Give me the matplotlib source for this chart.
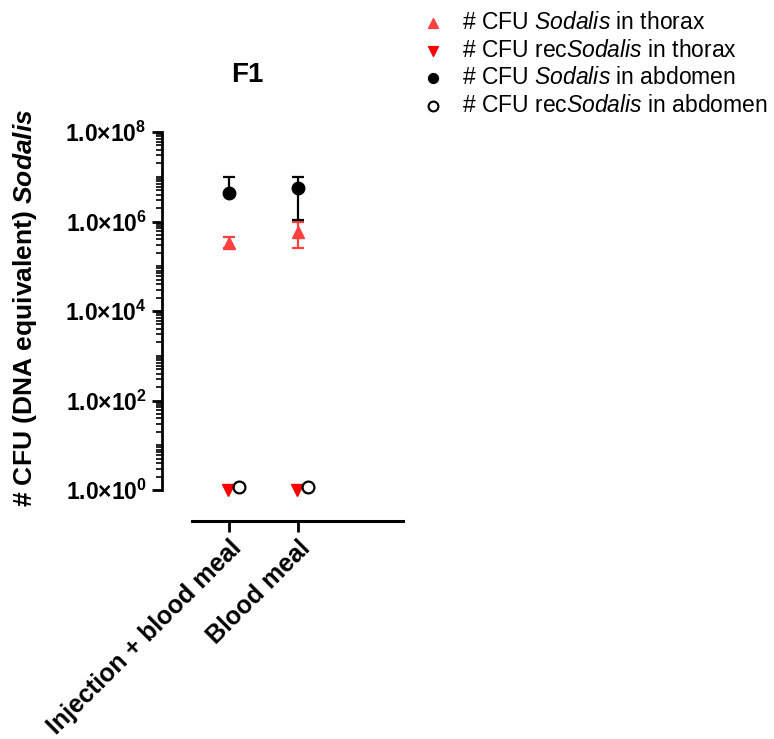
import matplotlib
matplotlib.use("Agg")
import matplotlib.pyplot as plt
import numpy as np
from matplotlib.ticker import FixedLocator, FuncFormatter, NullFormatter

plt.rcParams['font.family'] = ['Liberation Sans', 'DejaVu Sans']
plt.rcParams['mathtext.fontset'] = 'custom'
plt.rcParams['mathtext.rm'] = 'Liberation Sans'
plt.rcParams['mathtext.it'] = 'Liberation Sans:italic'
plt.rcParams['mathtext.bf'] = 'Liberation Sans:bold'
plt.rcParams['mathtext.bfit'] = 'Liberation Sans:bold:italic'

categories = ["Injection + blood meal", "Blood meal"]

# # CFU Sodalis in thorax (mean, lower, upper)
thorax = [3.3e5, 5.9e5]
thorax_lo = [2.6e5, 2.6e5]
thorax_hi = [4.4e5, 9.8e5]
# recSodalis in thorax
rec_thorax = [1.0, 1.0]
# Sodalis in abdomen
abdomen = [4.3e6, 5.6e6]
abdomen_lo = [4.3e6, 1.07e6]
abdomen_hi = [1.0e7, 1.0e7]
# recSodalis in abdomen
rec_abdomen = [1.15, 1.15]

fig = plt.figure(figsize=(7.74, 7.39), dpi=100)
ax = fig.add_axes([192/774, 1-521/739, (403-192)/774, (521-132)/739])
x = np.arange(len(categories))

ax.set_yscale('log')
ax.set_ylim(10**(-31/44.75), 1e8)
ax.set_xlim(-37/69, 174/69)

red_up = '#ff4040'
red_dn = '#ff0000'

ax.errorbar(x, thorax, yerr=[np.array(thorax)-np.array(thorax_lo), np.array(thorax_hi)-np.array(thorax)],
            fmt='^', color=red_up, ms=9, capsize=4.5, elinewidth=1.6, capthick=1.6, zorder=3)
ab = np.array(abdomen)
ax.errorbar(x, abdomen, yerr=[ab-np.array(abdomen_lo), np.array(abdomen_hi)-ab],
            fmt='o', color='black', ms=9, capsize=4.5, elinewidth=1.6, capthick=1.6, zorder=3)
ax.plot(x - 0.02, rec_thorax, 'v', color=red_dn, ms=9, linestyle='none', zorder=3)
ax.plot(x + 0.15, rec_abdomen, 'o', mfc='white', mec='black', mew=1.6, ms=8.5, linestyle='none', zorder=4)

h1 = ax.scatter([], [], marker='^', color=red_up, s=50)
h2 = ax.scatter([], [], marker='v', color=red_dn, s=50)
h3 = ax.scatter([], [], marker='o', color='black', s=50)
h4 = ax.scatter([], [], marker='o', facecolor='white', edgecolor='black', linewidths=1.5, s=50)
fig.legend([h1, h2, h3, h4],
           [r"# CFU $\mathit{Sodalis}$ in thorax",
            r"# CFU rec$\mathit{Sodalis}$ in thorax",
            r"# CFU $\mathit{Sodalis}$ in abdomen",
            r"# CFU rec$\mathit{Sodalis}$ in abdomen"],
           loc='upper left', bbox_to_anchor=(412/774, 1-2/739), frameon=False,
           fontsize=16.5, handletextpad=0.8, labelspacing=0.2, borderaxespad=0, handlelength=1.0)

for s in ['top', 'right']:
    ax.spines[s].set_visible(False)
ax.spines['left'].set_position(('outward', 30*72/100))
ax.spines['left'].set_bounds(1, 1e8)
ax.spines['left'].set_linewidth(2.0)
ax.spines['bottom'].set_linewidth(2.2)

minor = [m * 10.0**d for d in range(0, 8) for m in range(2, 10)] + [10.0**d for d in (1, 3, 5, 7)]
ax.yaxis.set_major_locator(FixedLocator([1e0, 1e2, 1e4, 1e6, 1e8]))
ax.yaxis.set_minor_locator(FixedLocator(minor))
ax.yaxis.set_minor_formatter(NullFormatter())
ax.yaxis.set_major_formatter(FuncFormatter(lambda v, p: r"$\mathbf{1.0{\times}10^{%d}}$" % int(round(np.log10(v)))))
ax.tick_params(axis='y', which='major', length=7, width=2, labelsize=16.5, pad=4)
ax.tick_params(axis='y', which='minor', length=4, width=1.2)

ax.set_xticks(x)
ax.set_xticklabels(categories, rotation=45, ha='right', rotation_mode='anchor', fontsize=18, fontweight='bold')
ax.tick_params(axis='x', length=8, width=2, pad=3)

fig.text(25/774, 1-308/739, r"# CFU (DNA equivalent) $\mathbfit{Sodalis}$", rotation=90,
         fontsize=19, fontweight='bold', ha='center', va='center')
fig.text(247/774, 1-75/739, "F1", fontsize=20, fontweight='bold', ha='center', va='center')

fig.savefig("out.png", dpi=100)
